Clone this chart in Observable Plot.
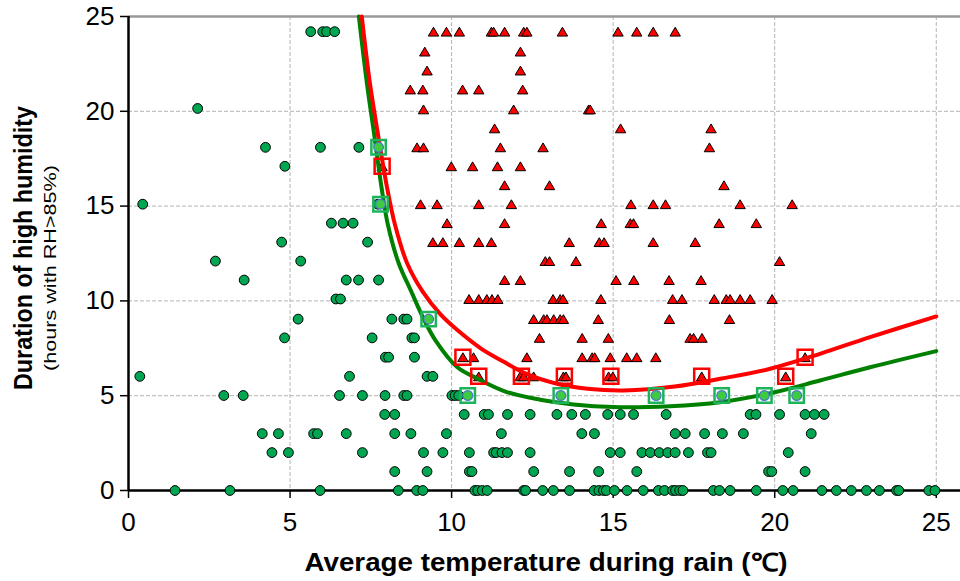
<!DOCTYPE html>
<html><head><meta charset="utf-8">
<script src="https://cdn.jsdelivr.net/npm/d3@7"></script>
<script src="https://cdn.jsdelivr.net/npm/@observablehq/plot@0.6"></script>
<style>body{margin:0;background:#fff}</style>
</head><body><div id="chart"></div>
<script>
const xTicks = [0, 5, 10, 15, 20, 25];
const yTicks = [0, 5, 10, 15, 20, 25];
const xTitle = "Average temperature during rain (℃)";
const yTitle = "Duration of high humidity";
const ySubtitle = "(hours with RH>85%)";

// green circles: [hours, [temperatures...]]
const greenRows = [
  [24.2, [5.64, 6.01, 6.13, 6.38]],
  [20.15, [2.14]],
  [18.1, [4.24, 5.94, 7.13]],
  [17.1, [4.84]],
  [15.1, [0.44, 7.72]],
  [14.1, [6.28, 6.64, 6.95]],
  [13.1, [4.74, 7.40]],
  [12.1, [2.69, 5.33]],
  [11.1, [3.58, 6.74, 7.12, 7.74]],
  [10.1, [6.42, 6.56]],
  [9.04, [5.25, 8.15, 8.52, 8.62]],
  [8.05, [4.83, 7.54, 8.77, 8.85]],
  [7.03, [7.95, 8.05, 8.85]],
  [6.02, [0.35, 6.84, 9.24, 9.42]],
  [5.01, [2.95, 3.55, 6.53, 7.24, 7.94, 8.52, 8.62, 10.01, 10.11, 10.22]],
  [4.01, [7.93, 8.24, 10.39, 11.01, 11.14, 11.73, 12.43, 13.26, 13.72, 14.14, 14.83, 15.22, 15.63, 16.64, 19.24, 19.42, 20.15, 20.94, 21.23, 21.53]],
  [3.0, [4.14, 4.64, 5.73, 5.85, 6.74, 8.24, 8.74, 9.84, 11.54, 14.03, 14.42, 16.92, 17.23, 17.83, 18.38, 19.03, 21.13]],
  [2.0, [4.44, 4.95, 7.24, 9.13, 9.73, 10.55, 11.3, 11.38, 11.56, 11.73, 12.43, 14.91, 15.22, 15.89, 16.15, 16.43, 16.69, 16.92, 17.33, 17.92, 18.03, 20.42]],
  [1.0, [8.24, 9.24, 10.55, 10.63, 12.54, 13.65, 14.55, 15.73, 19.81, 19.91, 20.94]],
  [0, [1.44, 3.14, 5.93, 8.35, 8.92, 9.11, 10.72, 10.81, 10.95, 11.1, 12.23, 12.29, 12.82, 13.15, 13.65, 14.41, 14.56, 14.70, 14.79, 15.04, 15.43, 15.93, 16.40, 16.59, 16.84, 16.93, 17.06, 17.16, 18.1, 18.29, 18.62, 19.43, 20.25, 20.57, 21.46, 21.91, 22.37, 22.84, 23.24, 23.77, 23.84, 24.77, 24.96]]
];

// red triangles: [hours, [temperatures...]]
const redRows = [
  [24.2, [9.44, 9.84, 10.24, 11.23, 11.3, 11.64, 12.23, 12.33, 13.43, 15.15, 15.73, 16.24, 16.92]],
  [23.15, [9.17, 12.13]],
  [22.15, [9.24, 12.13]],
  [21.15, [8.72, 9.11, 10.34, 10.84, 12.2]],
  [20.1, [9.13, 11.92, 14.24, 14.29]],
  [19.1, [11.33, 15.23, 18.03]],
  [18.1, [8.93, 9.13, 11.51, 12.83, 17.98]],
  [17.1, [7.85, 9.99, 10.65, 11.42, 12.13]],
  [16.1, [11.64, 13.03, 18.43]],
  [15.1, [9.04, 9.55, 10.84, 11.85, 15.55, 16.24, 16.62, 18.93, 20.54]],
  [14.1, [9.86, 11.64, 14.63, 15.53, 15.63, 18.28, 19.43]],
  [13.1, [9.42, 9.73, 10.24, 10.84, 11.23, 13.64, 14.57, 14.72, 16.24, 17.54]],
  [12.1, [12.9, 13.03, 13.85, 20.15]],
  [11.1, [11.64, 12.13, 15.09, 15.64, 16.73, 17.72]],
  [10.1, [10.54, 10.84, 11.09, 11.25, 11.43, 13.14, 13.36, 13.45, 14.62, 16.84, 17.13, 18.13, 18.5, 18.62, 18.93, 19.24, 19.92]],
  [9.04, [12.54, 12.85, 12.95, 13.16, 13.36, 13.46, 14.54, 16.74, 18.6]],
  [8.05, [12.72, 14.04, 14.85, 17.38, 17.49, 17.75]],
  [7.03, [10.35, 10.68, 12.33, 14.04, 14.35, 14.43, 14.91, 15.42, 15.73, 16.32, 20.94]],
  [6.02, [10.84, 12.12, 12.23, 12.54, 13.46, 13.54, 14.86, 14.99, 17.74, 20.34]]
];

// highlighted points
const greenMarkX = [7.74, 7.80, 9.29, 10.5, 13.38, 16.33, 18.36, 19.68, 20.68];
const greenMarkY = [18.1, 15.1, 9.04, 5.01, 5.01, 5.01, 5.01, 5.01, 5.01];
const redMarkX = [7.85, 10.35, 10.84, 12.16, 13.49, 14.93, 17.74, 20.34, 20.94];
const redMarkY = [17.1, 7.03, 6.02, 6.02, 6.02, 6.02, 6.02, 6.02, 7.03];

// fitted curves
const greenCurveX = [7.13, 7.38, 7.60, 7.83, 8.03, 8.36, 8.75, 9.15, 9.50, 10.17, 10.78, 11.71, 12.74, 13.77, 15.01, 16.76, 18.31, 19.86, 21.4, 22.95, 25.0];
const greenCurveY = [25, 21.46, 18.82, 16.0, 14.0, 12.0, 10.5, 9.0, 7.92, 6.51, 5.92, 5.19, 4.79, 4.54, 4.40, 4.45, 4.66, 5.13, 5.80, 6.50, 7.35];
const redCurveX = [7.22, 7.47, 7.72, 8.0, 8.25, 8.62, 9.1, 9.65, 10.15, 10.9, 11.6, 12.3, 13.26, 14.29, 15.32, 16.9, 18.31, 19.86, 21.4, 22.95, 25.0];
const redCurveY = [25, 21.5, 18.8, 16.0, 14.0, 12.0, 10.5, 9.3, 8.5, 7.5, 6.8, 6.16, 5.63, 5.35, 5.28, 5.48, 5.89, 6.42, 7.21, 8.09, 9.18];

const circles = greenRows.flatMap(([y, xs]) => xs.map(x => ({x, y})));
const triangles = redRows.flatMap(([y, xs]) => xs.map(x => ({x, y})));
const gMarks = greenMarkX.map((x, i) => ({x, y: greenMarkY[i]}));
const rMarks = redMarkX.map((x, i) => ({x, y: redMarkY[i]}));
const gCurve = greenCurveX.map((x, i) => ({x, y: greenCurveY[i]}));
const rCurve = redCurveX.map((x, i) => ({x, y: redCurveY[i]}));

const tri = {
  draw(ctx, size) {
    const r = Math.sqrt(size / Math.PI);
    const w = r * 2.0, h = r * 1.7;
    ctx.moveTo(0, -h / 2);
    ctx.lineTo(w / 2, h / 2);
    ctx.lineTo(-w / 2, h / 2);
    ctx.closePath();
  }
};
const sq = {
  draw(ctx, size) {
    const r = Math.sqrt(size / Math.PI);
    ctx.moveTo(-r, -r); ctx.lineTo(r, -r); ctx.lineTo(r, r); ctx.lineTo(-r, r); ctx.closePath();
  }
};

const svg = Plot.plot({
  width: 960,
  height: 581,
  marginLeft: 128,
  marginRight: 0,
  marginTop: 16,
  marginBottom: 91,
  style: {fontFamily: "'Liberation Sans', Arial, sans-serif", fontSize: "26px", background: "white", color: "black"},
  x: {domain: [0, 25.75], label: null},
  y: {domain: [0, 25], label: null},
  marks: [
    Plot.gridX([5, 10, 15, 20, 25], {stroke: "#b4b4b4", strokeOpacity: 1, strokeDasharray: "4,2", strokeWidth: 1}),
    Plot.gridY([5, 10, 15, 20], {stroke: "#b4b4b4", strokeOpacity: 1, strokeDasharray: "4,2", strokeWidth: 1}),
    Plot.ruleY([25], {stroke: "#999", strokeWidth: 2.5}),
    Plot.axisX(xTicks, {tickSize: 8, tickPadding: 14, stroke: "black", strokeWidth: 1.5, label: null, fontSize: 26}),
    Plot.axisY(yTicks, {tickSize: 8, tickPadding: 6, stroke: "black", strokeWidth: 1.5, label: null, fontSize: 26}),
    Plot.ruleY([0], {stroke: "black", strokeWidth: 2.5}),
    Plot.ruleX([0], {stroke: "black", strokeWidth: 2.5}),
    Plot.dot(circles, {x: "x", y: "y", r: 4.9, fill: "#00a651", stroke: "black", strokeWidth: 1}),
    Plot.dot(triangles, {x: "x", y: "y", r: 5.2, symbol: tri, fill: "#ff0000", stroke: "black", strokeWidth: 1}),
    Plot.line(gCurve, {x: "x", y: "y", curve: "catmull-rom", stroke: "#008000", strokeWidth: 4}),
    Plot.line(rCurve, {x: "x", y: "y", curve: "catmull-rom", stroke: "#ff0000", strokeWidth: 4}),
    Plot.dot(rMarks, {x: "x", y: "y", r: 7.5, symbol: sq, fill: "none", stroke: "#ff0000", strokeWidth: 2.5}),
    Plot.dot(gMarks, {x: "x", y: "y", r: 7.2, symbol: sq, fill: "none", stroke: "#1db35a", strokeWidth: 2.5}),
    Plot.dot(gMarks, {x: "x", y: "y", r: 4.9, fill: "#3dcc3d", stroke: "#4a78d0", strokeWidth: 1.2})
  ]
});

const s = d3.select(svg);
s.append("text")
  .attr("x", 546).attr("y", 571)
  .attr("text-anchor", "middle")
  .attr("font-weight", "bold").attr("font-size", 25)
  .attr("textLength", 483).attr("lengthAdjust", "spacingAndGlyphs")
  .attr("fill", "black")
  .text(xTitle);
s.append("text")
  .attr("transform", "translate(32,248) rotate(-90)")
  .attr("text-anchor", "middle")
  .attr("font-weight", "bold").attr("font-size", 25)
  .attr("textLength", 284).attr("lengthAdjust", "spacingAndGlyphs")
  .attr("fill", "black")
  .text(yTitle);
s.append("text")
  .attr("transform", "translate(56,268) rotate(-90)")
  .attr("text-anchor", "middle")
  .attr("font-size", 17)
  .attr("textLength", 206).attr("lengthAdjust", "spacingAndGlyphs")
  .attr("fill", "black")
  .text(ySubtitle);

document.getElementById("chart").appendChild(svg);
</script>
</body></html>
